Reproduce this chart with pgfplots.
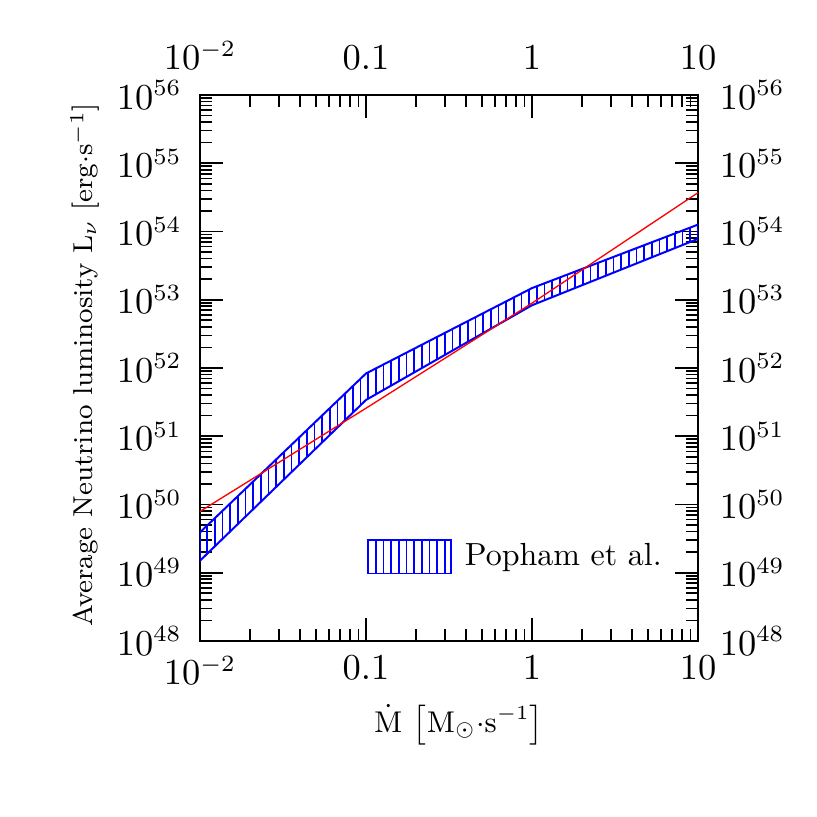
\documentclass[border=0pt]{standalone}
\usepackage{pgfplots}
\pgfplotsset{compat=1.18}
\usetikzlibrary{patterns.meta}

\begin{document}
\begin{tikzpicture}
\path[use as bounding box] (-60pt,-52.8pt) rectangle (185.1pt,192.3pt);

\begin{axis}[
    width=149.4pt, height=163.8pt, scale only axis,
    xmode=log, ymode=log,
    xmin=0.01, xmax=10, ymin=1e48, ymax=1e56,
    xtick={0.01,0.1,1,10},
    xticklabels={$10^{-2}$,$0.1$,$1$,$10$},
    ytick={1e48,1e49,1e50,1e51,1e52,1e53,1e54,1e55,1e56},
    tick align=inside,
    major tick length=7pt, minor tick length=3.5pt,
    tick style={black, line width=0.5pt},
    axis line style={line width=0.6pt},
    tick label style={font=\fontsize{10.5}{12}\selectfont},
    xticklabel style={yshift=-1pt},
    yticklabel style={xshift=-2pt},
    every axis y label/.style={at={(rel axis cs:0,0.5)}, xshift=-34.5pt, yshift=1pt, rotate=90, anchor=center,
      font=\fontsize{8.2}{10}\selectfont},
    every axis x label/.style={at={(rel axis cs:0.5,0)}, xshift=3pt, yshift=-25pt, anchor=center,
      font=\fontsize{9.2}{10}\selectfont},
    ylabel={Average Neutrino luminosity L$_\nu$ [erg$\cdot$s$^{-1}$]},
    xlabel={$\dot{\mathrm{M}}$ $\bigl[\mathrm{M}_\odot{\cdot}\mathrm{s}^{-1}\bigr]$},
    legend style={at={(rel axis cs:0.313,0.154)}, anchor=west, draw=none, fill=none,
      column sep=2pt, font=\fontsize{9.6}{11}\selectfont},
  ]

% Popham et al. band: upper edge, then lower edge backwards
\addplot[blue, line width=0.6pt,
  pattern={Lines[angle=90, distance=2.3pt, line width=0.5pt]}, pattern color=blue,
  legend image code/.code={
    \draw[blue, line width=0.5pt, pattern={Lines[angle=90, distance=2.3pt, line width=0.5pt]}, pattern color=blue]
      (0pt,-5pt) rectangle (25pt,5pt);
  }] coordinates {
  (0.01,3.9e49) (0.1,8.3e51) (1,1.48e53) (10,1.26e54)
  (10,7.8e53) (1,8.3e52) (0.1,3.4e51) (0.01,1.5e49) (0.01,3.9e49)
};
\addlegendentry{Popham et al.}

% red fit
\addplot[red, line width=0.4pt, forget plot] coordinates {
  (0.01,7.9e49) (0.1,2.57e51) (1,8.9e52) (10,3.7e54)
};
\end{axis}

% mirrored tick labels on top and right
\begin{axis}[
    width=149.4pt, height=163.8pt, scale only axis,
    xmode=log, ymode=log,
    xmin=0.01, xmax=10, ymin=1e48, ymax=1e56,
    xtick={0.01,0.1,1,10},
    xticklabels={$10^{-2}$,$0.1$,$1$,$10$},
    ytick={1e48,1e49,1e50,1e51,1e52,1e53,1e54,1e55,1e56},
    tick label style={font=\fontsize{10.5}{12}\selectfont},
    xticklabel pos=upper, yticklabel pos=right,
    axis line style={draw=none}, tick style={draw=none},
    xticklabel style={yshift=4pt}, yticklabel style={xshift=3pt},
  ]
\end{axis}
\end{tikzpicture}
\end{document}
